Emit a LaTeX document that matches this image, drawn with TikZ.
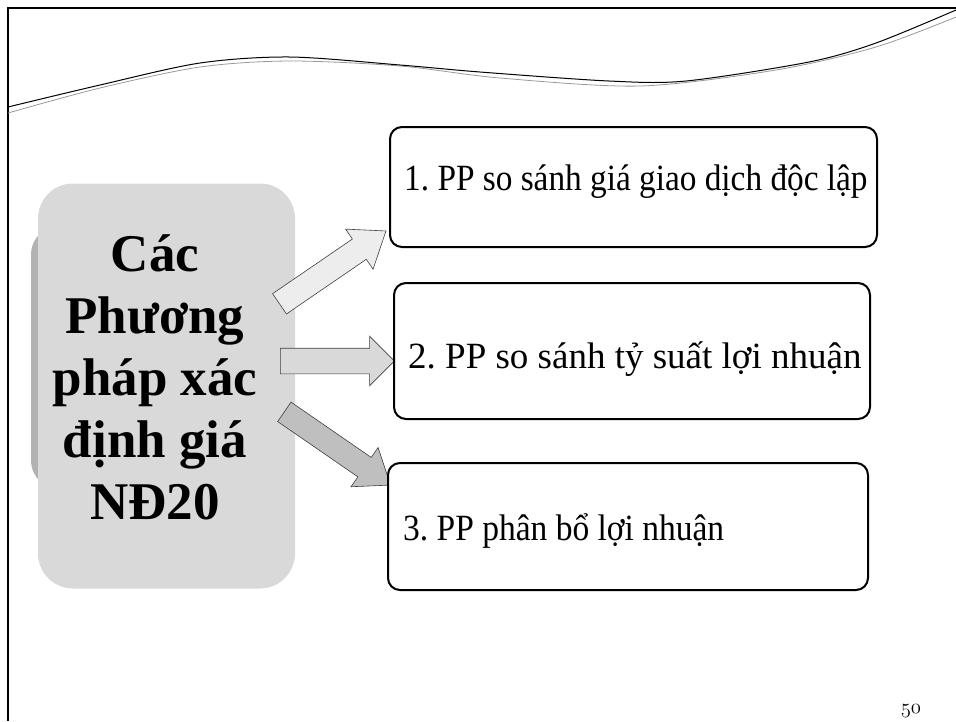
\documentclass[tikz,border=0pt]{standalone}
\usepackage{fontspec}
\setmainfont{Liberation Serif}
\usetikzlibrary{shapes.arrows,positioning,calc}
\frenchspacing

\begin{document}
\begin{tikzpicture}[x=1pt,y=-1pt,
    optbox/.style={draw=black,line width=2pt,rounded corners=12pt,fill=white,inner sep=0pt},
    opttext/.style={anchor=base west,inner sep=0pt,font=\fontsize{37}{40}\selectfont},
    blockarrow/.style={single arrow,draw=black!75,line width=0.6pt,inner sep=12pt,
        single arrow head extend=12pt}]
    \useasboundingbox (0,0) rectangle (956,721);
    % frame and swoosh
    \draw[line width=2.5pt] (8,721) -- (8,8) -- (956,8);
    \draw[black!40,line width=0.8pt] plot[smooth] coordinates {(8,113) (100,88) (200,67) (290,61) (400,66) (500,78) (640,86) (776,70) (876,47) (956,17)};
    \draw[line width=1pt] plot[smooth] coordinates {(8,107) (100,85) (200,63) (290,57) (400,65) (480,72) (609,81) (686,81) (809,62) (876,43) (956,10)};
    % left block
    \fill[black!30,rounded corners=30pt] (31,225) rectangle (200,490);
    \node[fill=black!15,rounded corners=35pt,minimum width=257pt,minimum height=405pt] (main) at (166.5,386) {};
    \node[font=\bfseries\fontsize{53}{62}\selectfont,align=center,inner sep=0pt] (title) at (155,377) {Các\\Phương\\pháp xác\\định giá\\NĐ20};
    % arrows
    \node[blockarrow,fill=black!7,minimum height=129pt,single arrow tip angle=74,rotate=34.4] (a1) at (326,272) {};
    \node[blockarrow,fill=black!15,inner ysep=12.5pt,minimum height=114pt,single arrow tip angle=90] (a2) at (331,361) {};
    \node[blockarrow,fill=black!25,inner ysep=11.5pt,minimum height=129pt,single arrow tip angle=74,rotate=-34.6] (a3) at (331,444) {};
    % method boxes
    \node[optbox,minimum width=487pt,minimum height=120pt] (b1) at (633.5,187) {};
    \node[optbox,minimum width=476pt,minimum height=136pt] (b2) at (632,351) {};
    \node[optbox,minimum width=480pt,minimum height=127pt] (b3) at (628,526.5) {};
    \node[opttext] (t1) at (404,190) {\scalebox{0.9}[1]{1. PP so sánh giá giao dịch độc lập}};
    \node[opttext] (t2) at (408,368) {2. PP so sánh tỷ suất lợi nhuận};
    \node[opttext] (t3) at (403,540) {\scalebox{0.905}[1]{3. PP phân bổ lợi nhuận}};
    % page number
    \node[font=\fontsize{22}{24}\selectfont,inner sep=0pt] (pg) at (911,711) {\usefont{OML}{cmm}{m}{it}50};
\end{tikzpicture}
\end{document}
